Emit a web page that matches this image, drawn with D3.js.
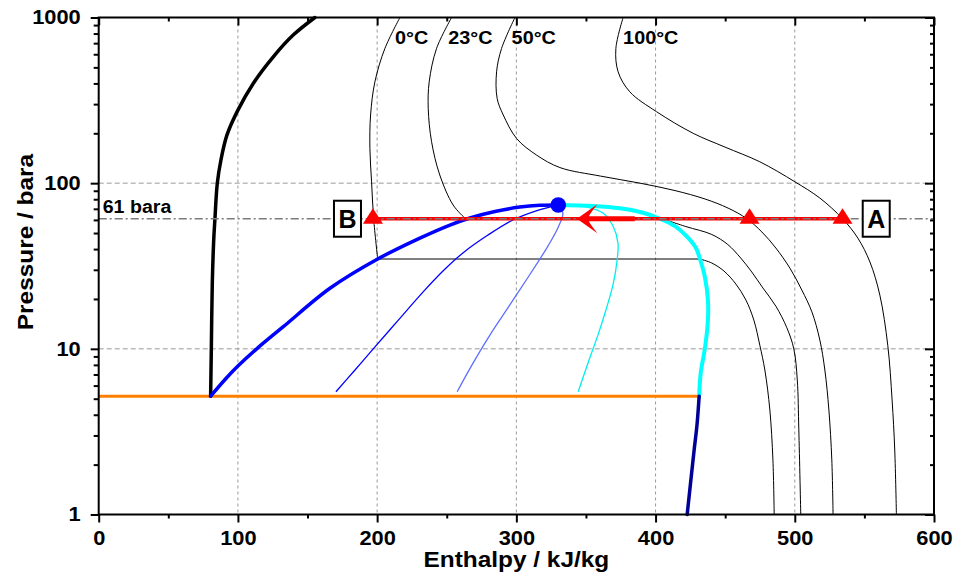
<!DOCTYPE html>
<html>
<head>
<meta charset="utf-8">
<script src="https://cdn.jsdelivr.net/npm/d3@7"></script>
<style>
  body { margin: 0; background: #fff; }
  text { font-family: "Liberation Sans", Arial, sans-serif; font-weight: bold; fill: #000; }
</style>
</head>
<body>
<div id="chart"></div>
<script>
// --------------------
// DATA  (h in kJ/kg, p in bara)
// --------------------
const xTicks = [0, 100, 200, 300, 400, 500, 600];
const yTicks = [1, 10, 100, 1000];

const satLiquid = [[80.4,5.18],[91.9,6.69],[100,7.87],[113.5,10],[132.6,13.6],[166.1,23.2],[200.4,34.85],[230.7,46.6],[252.3,55.9],[266.7,61.6],[284.6,67.4],[302.5,71.7],[316.9,73.5],[330,73.8]];
const satVapor = [[330,73.8],[355,72.8],[374.4,70.5],[391,66.3],[403.2,61],[414,55.1],[422.6,47.5],[429,40.6],[431.9,34.85],[435.4,27.2],[437.6,19.7],[437.6,14.9],[435.4,10],[432.5,7.24],[431.3,5.18]];
const solidVapor = [[431.3,5.18],[429.8,3.5],[427.7,2.45],[422.7,1]];
const melting = [[80.4,5.18],[80.9,10],[81.6,25],[82.6,45],[83.5,61],[85.2,100],[87.8,138],[92.1,195],[100,276],[111,400],[125.4,579],[139.7,783],[155.3,1000]];
const tripleP = 5.18;
const tripleH = [0, 431.3];

// isotherms: supercritical / liquid side, vapour side, saturation pressure
const iso0Liquid = [[216.4,1000],[205.6,651],[198.4,409],[195.3,258],[194.8,162],[196,102],[197.5,61],[200.4,34.85]];
const iso0Vapor = [[431.9,34.85],[440.4,32.95],[449.1,29.5],[457.7,24.6],[464.9,19.7],[470.6,14.9],[474.9,10.5],[478.5,7.45],[482.1,4.27],[484.3,2.13],[485.2,1]];
const iso0Sat = 34.85;
const iso23Liquid = [[253.5,1000],[242.7,651],[237.4,409],[236.7,283],[239.1,178],[245,112],[254.6,73.8],[263,61.5]];
const iso23Vapor = [[403.5,61.5],[421.8,54.7],[440.4,49],[451.9,42.6],[461.2,35.3],[469.1,29.1],[477.1,23.3],[486.4,18.1],[494.3,13.4],[499.3,10],[501.8,6.48],[502.9,3.24],[504.3,1]];
const iso23Sat = 61.5;
const iso50 = [[299,1000],[289.4,651],[285.8,470],[286.2,325],[290.6,258],[300.2,186],[314.5,147.8],[331.3,124.2],[360.3,110.4],[388.8,100],[414,90.2],[435.6,80.2],[452.1,70.7],[465.6,61],[476.4,50.7],[486.4,40.6],[496.5,30.7],[505.1,22.6],[512.3,16.7],[518,11.3],[521.6,7.45],[524.5,4.27],[526.6,2.13],[527.5,1]];
const iso100 = [[376.7,1000],[371.5,651],[373.1,470],[381.5,356],[400.7,270],[427,200],[449.8,165.2],[474.9,134.6],[500,102],[518,81.3],[534.3,61],[545.3,46.6],[554,33.4],[561.1,21.1],[566.8,10.5],[569.9,4.91],[571.8,2.45],[573,1]];

// constant quality lines 0.25 / 0.5 / 0.75
const q25 = [[170.4,5.51],[184.1,7.45],[197.2,10],[214.9,14.8],[232.9,22],[247.3,29.5],[261.6,37.9],[279.6,48.6],[297.5,59.9],[314.8,68.3],[330,73.8]];
const q50 = [[257.5,5.51],[265.2,7.24],[273.1,9.43],[281,12.1],[289.6,15.6],[299,20.5],[307.6,26.4],[315.5,33.4],[322.7,41.7],[329.8,53.6],[333.4,66],[330,73.8]];
const q75 = [[344.4,5.51],[352.2,8.56],[358.6,12.1],[364.3,17.1],[369.4,24.3],[372.2,33.4],[373,43.5],[369.4,55.1],[362.2,66],[350.7,71.7],[339.9,73.2],[330,73.8]];

const critical = [330.1, 73.8];
const processP = 61;
const processH = [197, 467.5, 534.3];
const arrowH = [385, 343.5];

const isoLabels = [
  { t: "0°C",   h: 212.8 },
  { t: "23°C",  h: 251.1 },
  { t: "50°C",  h: 296.6 },
  { t: "100°C", h: 376.7 }
];
const boxLabels = [{ t: "B", h: 178.7 }, { t: "A", h: 558.5 }];


// --------------------
// CHART
// --------------------
const width = 971;
const height = 573;
const mLeft = 98.7, mRight = 934, mTop = 17.5, mBottom = 514.5;
const stretchK = 1.12;

const svg = d3.select("#chart")
  .append("svg")
  .attr("width", width)
  .attr("height", height);

const x = d3.scaleLinear().domain([0, 600]).range([mLeft, mRight]);
const y = d3.scaleLog().domain([1, 1000]).range([mBottom, mTop]);

function stretch(sel, k) {
  sel.each(function () {
    const t = d3.select(this);
    const tx = +t.attr("x") || 0;
    t.attr("transform", `translate(${tx},0) scale(${k},1) translate(${-tx},0)`);
  });
}

const line = d3.line()
  .x(d => x(d[0]))
  .y(d => y(d[1]))
  .curve(d3.curveCatmullRom.alpha(0.5));

// grid
svg.append("g")
  .selectAll("line")
  .data([100, 200, 300, 400, 500])
  .join("line")
  .attr("x1", d => x(d)).attr("x2", d => x(d))
  .attr("y1", mTop).attr("y2", mBottom)
  .attr("stroke", "#999").attr("stroke-width", 1)
  .attr("stroke-dasharray", "3,3");

svg.append("g")
  .selectAll("line")
  .data([10, 100])
  .join("line")
  .attr("x1", mLeft).attr("x2", mRight)
  .attr("y1", d => y(d)).attr("y2", d => y(d))
  .attr("stroke", "#999").attr("stroke-width", 1)
  .attr("stroke-dasharray", "5,3");

// isotherms
const iso = svg.append("g")
  .attr("fill", "none")
  .attr("stroke", "#000")
  .attr("stroke-width", 1);

[iso0Liquid, iso0Vapor, iso23Liquid, iso23Vapor, iso50, iso100].forEach(s => {
  iso.append("path").attr("d", line(s));
});
[[iso0Liquid, iso0Vapor, iso0Sat], [iso23Liquid, iso23Vapor, iso23Sat]].forEach(([l, v, p]) => {
  iso.append("line")
    .attr("x1", x(l[l.length - 1][0])).attr("x2", x(v[0][0]))
    .attr("y1", y(p)).attr("y2", y(p));
});

// quality lines
[[q25, "#0000ff"], [q50, "#5f6fff"], [q75, "#00f0f0"]].forEach(([s, c]) => {
  svg.append("path")
    .attr("d", line(s))
    .attr("fill", "none")
    .attr("stroke", c)
    .attr("stroke-width", 1.3);
});

// triple line
svg.append("line")
  .attr("x1", x(tripleH[0])).attr("x2", x(tripleH[1]))
  .attr("y1", y(tripleP)).attr("y2", y(tripleP))
  .attr("stroke", "#ff8000").attr("stroke-width", 3);

// phase boundaries
[[melting, "#000", 3.5], [satLiquid, "#0000ff", 3.5], [satVapor, "#00ffff", 4], [solidVapor, "#000099", 3.5]]
  .forEach(([s, c, w]) => {
    svg.append("path")
      .attr("d", line(s))
      .attr("fill", "none")
      .attr("stroke", c)
      .attr("stroke-width", w)
      .attr("stroke-linecap", "round");
  });

// process line at 61 bara
svg.append("line")
  .attr("x1", x(processH[0])).attr("x2", x(processH[2]))
  .attr("y1", y(processP)).attr("y2", y(processP))
  .attr("stroke", "#ff0000").attr("stroke-width", 3.4);

svg.append("line")
  .attr("x1", mLeft).attr("x2", mRight)
  .attr("y1", y(processP)).attr("y2", y(processP))
  .attr("stroke", "#7a7a7a").attr("stroke-width", 1.3)
  .attr("stroke-dasharray", "8,3,2,3");

svg.append("text")
  .attr("x", x(2.9))
  .attr("y", y(processP) - 5.5)
  .style("font-size", "17.5px")
  .text("61 bara")
  .call(stretch, stretchK);

// arrow
svg.append("line")
  .attr("x1", x(arrowH[0])).attr("x2", x(arrowH[1]) + 10)
  .attr("y1", y(processP)).attr("y2", y(processP))
  .attr("stroke", "#ff0000").attr("stroke-width", 5);

svg.append("path")
  .attr("transform", `translate(${x(arrowH[1])},${y(processP)})`)
  .attr("d", "M0,0 L20.5,-14.5 Q13,-5 12,-2.5 L14,0 L12,2.5 Q13,5 20.5,14.5 Z")
  .attr("fill", "#ff0000");

// state points
svg.append("g")
  .selectAll("path")
  .data(processH)
  .join("path")
  .attr("transform", d => `translate(${x(d)},${y(processP) - 1})`)
  .attr("d", "M0,-9.5 L10,6 L-10,6 Z")
  .attr("fill", "#ff0000");

svg.append("circle")
  .attr("cx", x(critical[0]))
  .attr("cy", y(critical[1]))
  .attr("r", 7.8)
  .attr("fill", "#0000ff");

// A / B boxes
const boxes = svg.append("g")
  .selectAll("g")
  .data(boxLabels)
  .join("g")
  .attr("transform", d => `translate(${x(d.h)},${y(processP)})`);

boxes.append("rect")
  .attr("x", -13.5).attr("y", -18)
  .attr("width", 27).attr("height", 36)
  .attr("fill", "#fff")
  .attr("stroke", "#000")
  .attr("stroke-width", 2);

boxes.append("text")
  .attr("text-anchor", "middle")
  .attr("y", 9)
  .style("font-size", "25px")
  .text(d => d.t);

// isotherm labels
svg.append("g")
  .selectAll("text")
  .data(isoLabels)
  .join("text")
  .attr("x", d => x(d.h))
  .attr("y", 44.3)
  .style("font-size", "17.7px")
  .text(d => d.t)
  .call(stretch, stretchK);


// --------------------
// AXES
// --------------------
const minorX = d3.range(50, 600, 100);
const minorY = [];
[1, 10, 100].forEach(dec => d3.range(2, 10).forEach(m => minorY.push(dec * m)));

function styleAxis(g) {
  g.select(".domain").remove();
  g.selectAll(".tick line").attr("stroke", "#000").attr("stroke-width", 2);
  g.selectAll(".tick text").style("font-size", "19.5px").attr("fill", "#000");
}

// bottom
svg.append("g")
  .attr("transform", `translate(0,${mBottom})`)
  .call(d3.axisBottom(x).tickValues(xTicks).tickSize(8).tickPadding(9).tickFormat(d3.format("d")))
  .call(styleAxis)
  .call(g => g.selectAll(".tick text").call(stretch, stretchK));
svg.append("g")
  .attr("transform", `translate(0,${mBottom})`)
  .call(d3.axisBottom(x).tickValues(minorX).tickSize(4).tickFormat(""))
  .call(styleAxis);

// top
svg.append("g")
  .attr("transform", `translate(0,${mTop})`)
  .call(d3.axisTop(x).tickValues(xTicks).tickSize(-8).tickFormat(""))
  .call(styleAxis);
svg.append("g")
  .attr("transform", `translate(0,${mTop})`)
  .call(d3.axisTop(x).tickValues(minorX).tickSize(-4).tickFormat(""))
  .call(styleAxis);

// left
svg.append("g")
  .attr("transform", `translate(${mLeft},0)`)
  .call(d3.axisLeft(y).tickValues(yTicks).tickSize(8).tickPadding(10).tickFormat(d3.format("d")))
  .call(styleAxis)
  .call(g => g.selectAll(".tick text").call(stretch, stretchK));
svg.append("g")
  .attr("transform", `translate(${mLeft},0)`)
  .call(d3.axisLeft(y).tickValues(minorY).tickSize(5).tickFormat(""))
  .call(styleAxis);

// right
svg.append("g")
  .attr("transform", `translate(${mRight},0)`)
  .call(d3.axisRight(y).tickValues(yTicks).tickSize(-9).tickFormat(""))
  .call(styleAxis);
svg.append("g")
  .attr("transform", `translate(${mRight},0)`)
  .call(d3.axisRight(y).tickValues(minorY).tickSize(-4).tickFormat(""))
  .call(styleAxis);

// frame
svg.append("rect")
  .attr("x", mLeft).attr("y", mTop)
  .attr("width", mRight - mLeft).attr("height", mBottom - mTop)
  .attr("fill", "none")
  .attr("stroke", "#000")
  .attr("stroke-width", 2);

// axis titles
svg.append("text")
  .attr("text-anchor", "middle")
  .attr("transform", `translate(${(mLeft + mRight) / 2},567) scale(${stretchK},1)`)
  .style("font-size", "21.8px")
  .text("Enthalpy / kJ/kg");

svg.append("text")
  .attr("text-anchor", "middle")
  .attr("transform", `translate(33,242) rotate(-90) scale(${stretchK},1)`)
  .style("font-size", "21.8px")
  .text("Pressure / bara");
</script>
</body>
</html>
